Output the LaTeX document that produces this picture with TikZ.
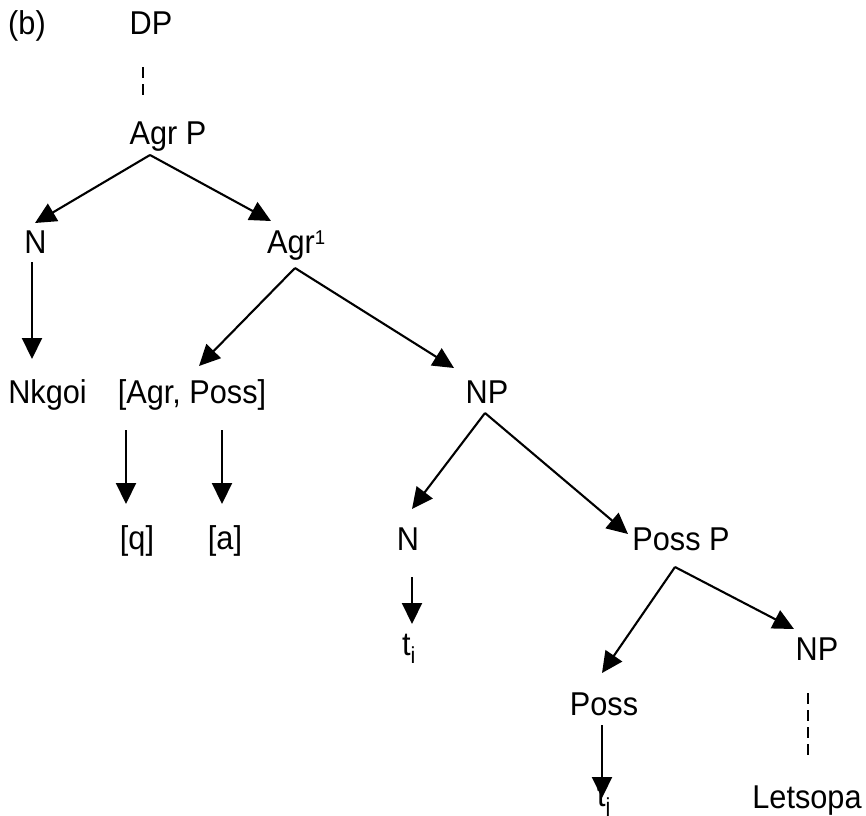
\documentclass[tikz,border=0pt]{standalone}
\usepackage{fontspec}
\setmainfont{Liberation Sans}[FakeStretch=0.93]
\usetikzlibrary{arrows.meta}
\begin{document}
\begin{tikzpicture}[x=1pt,y=-1pt,
  lbl/.style={inner sep=0pt,anchor=base,font=\fontsize{33}{40}\selectfont},
  lblw/.style={lbl,anchor=base west},
  arr/.style={line width=2.1pt,-{Triangle[length=21pt,width=20pt]}},
  dsh/.style={line width=2.1pt,dash pattern=on 11pt off 6pt}]
\useasboundingbox (0,0) rectangle (866,815);
% text nodes
\node[lbl] (lab) at (27,34) {(b)};
\node[lbl] (dp) at (151,34) {DP};
\node[lbl] (agrp) at (168,144) {Agr P};
\node[lbl] (n1) at (35.5,253) {N};
\node[lblw] (agr1) at (267,253) {Agr\raisebox{0.5ex}{\fontsize{20}{24}\selectfont 1}};
\node[lbl] (nkgoi) at (47.5,403) {Nkgoi};
\node[lbl] (agrposs) at (192,403) {[Agr, Poss]};
\node[lbl] (np1) at (487,403) {NP};
\node[lbl] (q) at (137,549) {[q]};
\node[lbl] (a) at (225,549) {[a]};
\node[lbl] (n2) at (408,550) {N};
\node[lbl] (possp) at (681,550) {Poss P};
\node[lblw] (ti) at (402,655) {t\textsubscript{i}};
\node[lbl] (np2) at (817,660) {NP};
\node[lbl] (poss) at (604,715) {Poss};
\node[lblw] (tj) at (597,806) {t\textsubscript{j}};
\node[lbl] (letsopa) at (807,808) {Letsopa};
% connector end points
\coordinate (dp-b) at (143,67);
\coordinate (agrp-t) at (143,95);
\coordinate (agrp-b) at (150,155);
\coordinate (n1-t) at (35,223);
\coordinate (agr1-t) at (271,221);
\coordinate (n1-b) at (32,262);
\coordinate (nkgoi-t) at (32,359);
\coordinate (agr1-b) at (295,268);
\coordinate (agrposs-t) at (199,366);
\coordinate (np1-t) at (454,368);
\coordinate (agrposs-bl) at (126,430);
\coordinate (q-t) at (126,504);
\coordinate (agrposs-br) at (222,430);
\coordinate (a-t) at (222,504);
\coordinate (np1-b) at (485,413);
\coordinate (n2-t) at (412,509);
\coordinate (possp-t) at (628,534);
\coordinate (n2-b) at (412,577);
\coordinate (ti-t) at (412,624);
\coordinate (possp-b) at (675,567);
\coordinate (poss-t) at (602,673);
\coordinate (np2-t) at (794,629);
\coordinate (poss-b) at (602,725);
\coordinate (tj-t) at (602,798);
\coordinate (np2-b) at (808,693);
\coordinate (letsopa-t) at (808,758);
% connectors
\draw[dsh] (dp-b) -- (agrp-t);
\draw[arr] (agrp-b) -- (n1-t);
\draw[arr] (agrp-b) -- (agr1-t);
\draw[arr] (n1-b) -- (nkgoi-t);
\draw[arr] (agr1-b) -- (agrposs-t);
\draw[arr] (agr1-b) -- (np1-t);
\draw[arr] (agrposs-bl) -- (q-t);
\draw[arr] (agrposs-br) -- (a-t);
\draw[arr] (np1-b) -- (n2-t);
\draw[arr] (np1-b) -- (possp-t);
\draw[arr] (n2-b) -- (ti-t);
\draw[arr] (possp-b) -- (poss-t);
\draw[arr] (possp-b) -- (np2-t);
\draw[arr] (poss-b) -- (tj-t);
\draw[dsh] (np2-b) -- (letsopa-t);
\end{tikzpicture}
\end{document}
